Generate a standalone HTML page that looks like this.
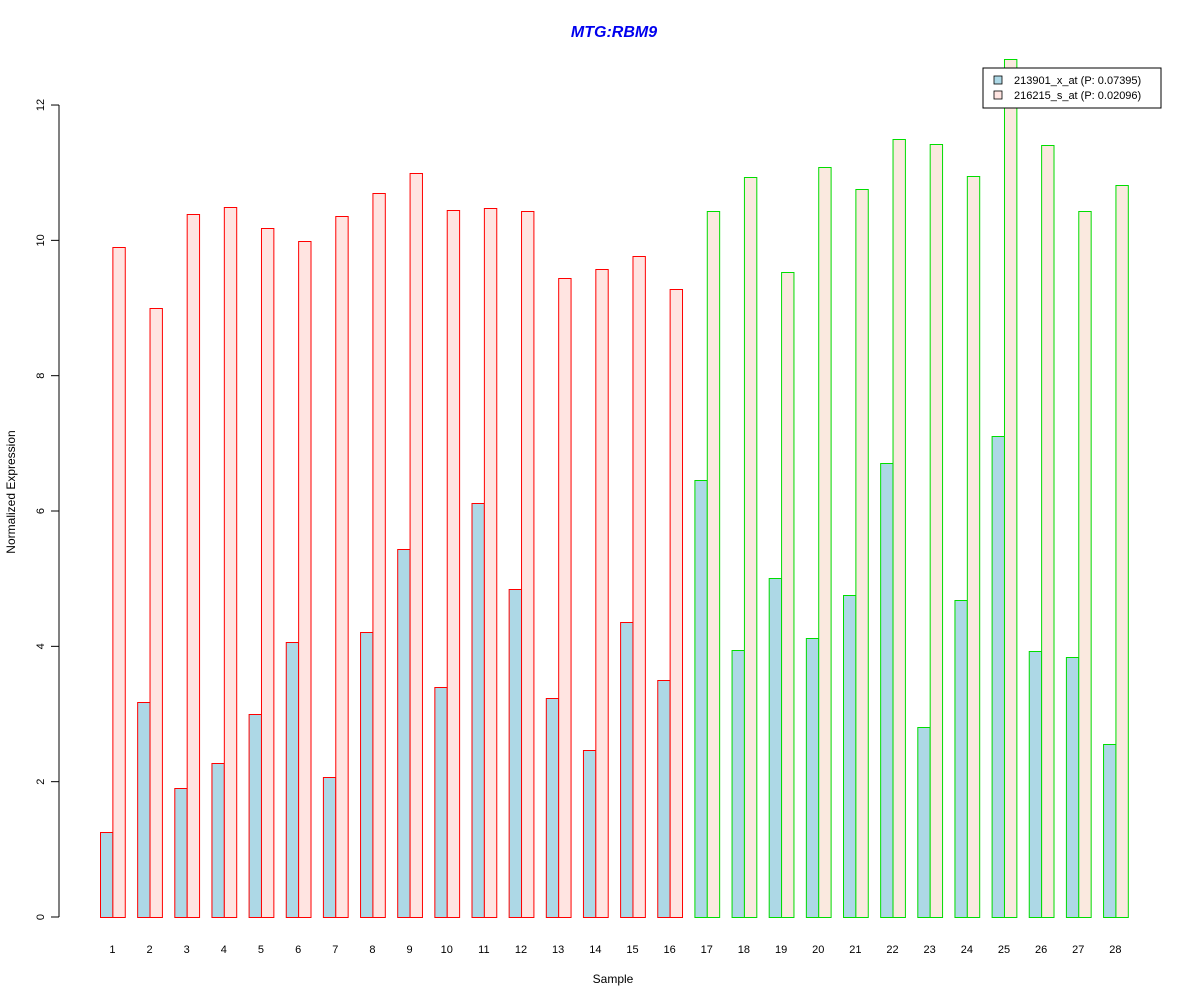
<!DOCTYPE html>
<html><head><meta charset="utf-8"><style>body{margin:0;background:#fff}svg{display:block;font-family:"Liberation Sans",Arial,sans-serif}</style></head>
<body>
<svg id="s" width="1200" height="1000" xmlns="http://www.w3.org/2000/svg">
<rect width="1200" height="1000" fill="#fff"/>
<text x="614" y="37" text-anchor="middle" font-size="16" font-weight="bold" font-style="italic" fill="#0000ee">MTG:RBM9</text>
<text x="613" y="983" text-anchor="middle" font-size="12">Sample</text>
<text transform="translate(15,492) rotate(-90)" text-anchor="middle" font-size="12">Normalized Expression</text>
<line x1="59" y1="105" x2="59" y2="917" stroke="#000"/>
<g id="g"></g>
<rect x="983" y="68" width="178" height="40" fill="#fff" stroke="#000"/>
<rect x="994" y="76" width="8" height="8" fill="#add8e6" stroke="#000" stroke-width="0.8"/>
<rect x="994" y="91" width="8" height="8" fill="#ffe4e1" stroke="#000" stroke-width="0.8"/>
<text x="1014" y="84" font-size="11">213901_x_at (P: 0.07395)</text>
<text x="1014" y="99" font-size="11">216215_s_at (P: 0.02096)</text>
</svg>
<script>
var b=[832,702,788,763,714,642,777,632,549,687,503,589,698,750,622,680,480,650,578,638,595,463,727,600,436,651,657,744];
var p=[247,308,214,207,228,241,216,193,173,210,208,211,278,269,256,289,211,177,272,167,189,139,144,176,59,145,211,185];
var h='',w=12.38;
for(var i=0;i<28;i++){var x=100+i*37.15,c=i<16?'#ff0000':'#00dd00',pf=i<16?'#ffe4e1':'#fae9df';
h+='<rect x="'+(x+.5)+'" y="'+(b[i]+.5)+'" width="'+w+'" height="'+(917-b[i])+'" fill="#add8e6" stroke="'+c+'"/>';
h+='<rect x="'+(x+w+.5)+'" y="'+(p[i]+.5)+'" width="'+w+'" height="'+(917-p[i])+'" fill="'+pf+'" stroke="'+c+'"/>';
h+='<text x="'+(x+w)+'" y="953" text-anchor="middle" font-size="11">'+(i+1)+'</text>';}
for(var k=0;k<=6;k++){var y=917-k*135.33;h+='<line x1="51" y1="'+y+'" x2="59" y2="'+y+'" stroke="#000"/><text transform="translate(44,'+y+') rotate(-90)" text-anchor="middle" font-size="11">'+(k*2)+'</text>';}
document.getElementById('g').innerHTML=h;
</script>
</body></html>
